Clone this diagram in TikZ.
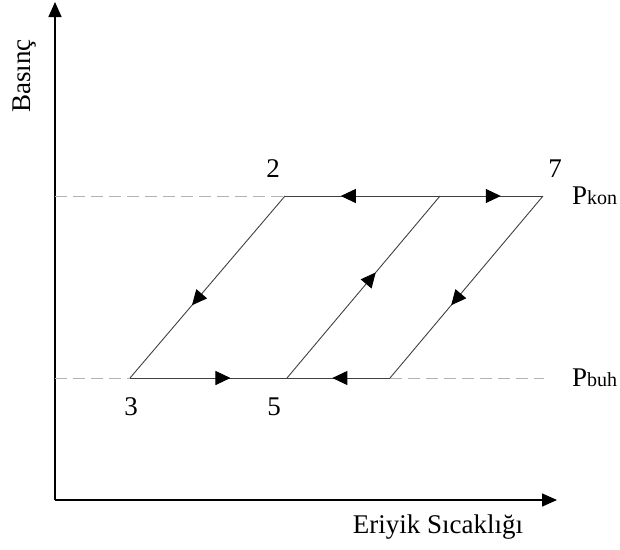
\documentclass[tikz,border=0pt]{standalone}
\usepackage{fontspec}
\setmainfont{Liberation Serif}
\usetikzlibrary{arrows.meta,decorations.markings}
\tikzset{
  axisline/.style={line width=1.5pt,black,-{Triangle[length=15pt,width=13pt]}},
  cycleline/.style={line width=0.9pt,black!75},
  guideline/.style={line width=1pt,black!30,dash pattern=on 12pt off 6pt},
  midarrow/.style={postaction={decorate},decoration={markings,
     mark=at position #1 with {\arrow[black]{Triangle[length=15pt,width=14pt]}}}},
  lbl/.style={font=\fontsize{27}{30}\selectfont,inner sep=0pt},
}
\begin{document}
\begin{tikzpicture}[x=1pt,y=-1pt]
\useasboundingbox (0,0) rectangle (620,549);
% axes
\coordinate (o) at (55,500);
\coordinate (ytop) at (55,2);
\coordinate (xend) at (557,500);
\draw[axisline] (o) -- (ytop);
\draw[axisline] (o) -- (xend);
% key points
\coordinate (p2) at (285,196);
\coordinate (c) at (440,196);
\coordinate (p7) at (543,196);
\coordinate (p3) at (130,378);
\coordinate (p5) at (287,378);
\coordinate (d) at (390,378);
\coordinate (gl1) at (55,196);
\coordinate (gl2) at (55,378);
\coordinate (gr2) at (544,378);
% guide lines
\draw[guideline] (gl1) -- (p2);
\draw[guideline] (gl2) -- (p3);
\draw[guideline] (d) -- (gr2);
% cycle
\draw[cycleline,midarrow=0.64] (c) -- (p2);
\draw[cycleline,midarrow=0.59] (c) -- (p7);
\draw[cycleline,midarrow=0.64] (p3) -- (p5);
\draw[cycleline,midarrow=0.56] (d) -- (p5);
\draw[cycleline,midarrow=0.60] (p2) -- (p3);
\draw[cycleline,midarrow=0.60] (p7) -- (d);
\draw[cycleline,midarrow=0.58] (p5) -- (c);
% labels
\node[lbl] (l2) at (273,169) {2};
\node[lbl] (l7) at (555,169) {7};
\node[lbl] (l3) at (131,407) {3};
\node[lbl] (l5) at (274,407) {5};
\node[lbl,anchor=base west] (pk) at (572,204) {P\fontsize{20}{22}\selectfont kon};
\node[lbl,anchor=base west] (pb) at (572,386) {P\fontsize{20}{22}\selectfont buh};
\node[lbl,rotate=90] (ylab) at (25,76) {Basınç};
\node[lbl] (xlab) at (438,527) {Eriyik Sıcaklığı};
\end{tikzpicture}
\end{document}
